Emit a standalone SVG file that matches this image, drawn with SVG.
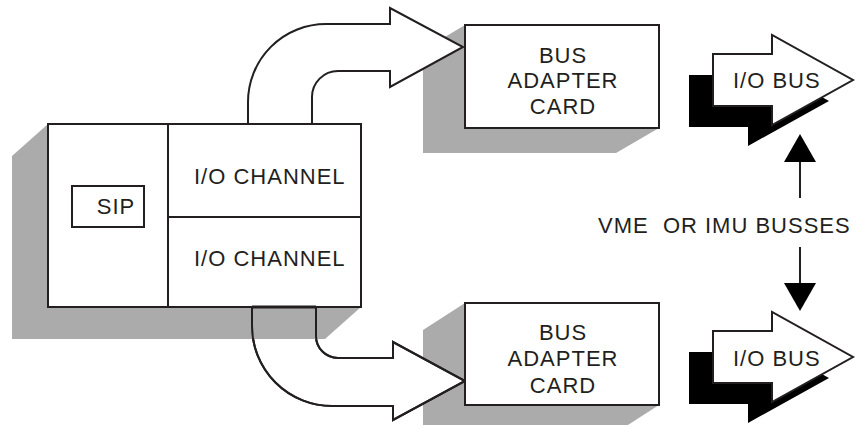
<svg xmlns="http://www.w3.org/2000/svg" width="866" height="425" viewBox="0 0 866 425">
<style>
.t{font-family:"Liberation Sans",Arial,sans-serif;font-size:22px;letter-spacing:1px;fill:#231f20}
.m{text-anchor:middle}
.sh{fill:#ababab}
.bx{fill:#fff;stroke:#231f20;stroke-width:2}
.ln{fill:none;stroke:#231f20;stroke-width:2}
.blk{fill:#000}
</style>
<defs>
<path id="arrTop" d="M248,124 V102 A78,78 0 0 1 326,24 H390 V8 L463,47 L390,87 V71 H338 A26,26 0 0 0 312,97 V124 Z"/>
<path id="arrBot" d="M252,307 V326 A80,80 0 0 0 332,406 H393 V420 L465,381 L393,342 V358 H338 A22,22 0 0 1 316,336 V307 Z"/>
</defs>
<rect width="866" height="425" fill="#fff"/>
<g id="card-shadows">
<polygon class="sh" points="465,25 423,50 423,153 616,153 659,128 659,25"/>
<polygon class="sh" points="465,303 423,330 423,432 617,432 659,405 659,303"/>
</g>
<g id="connectors">
<use href="#arrTop" fill="#fff" stroke="#231f20" stroke-width="2" stroke-linejoin="miter"/>
<use href="#arrBot" fill="#fff" stroke="#231f20" stroke-width="2" stroke-linejoin="miter"/>
</g>
<g id="main-unit">
<polygon class="sh" points="48,124 12,156 12,339 325,339 361,307 361,124"/>
<use href="#arrBot" fill="none" stroke="#231f20" stroke-width="2"/>
<rect class="bx" x="48" y="124" width="313" height="183"/>
<line class="ln" x1="168" y1="124" x2="168" y2="307"/>
<line class="ln" x1="168" y1="217" x2="361" y2="217"/>
<line x1="252" y1="307" x2="316" y2="307" stroke="#231f20" stroke-width="3"/>
<g id="sip">
<rect class="bx" x="72" y="186" width="72" height="41"/>
<text class="t m" x="116" y="214">SIP</text>
</g>
<g id="io-channel-1"><text class="t" x="194" y="184">I/O CHANNEL</text></g>
<g id="io-channel-2"><text class="t" x="194" y="266">I/O CHANNEL</text></g>
</g>
<g id="bus-adapter-card-1">
<rect class="bx" x="465" y="25" width="194" height="103"/>
<text class="t m" x="563" y="63">BUS</text>
<text class="t m" x="563" y="88">ADAPTER</text>
<text class="t m" x="563" y="114">CARD</text>
</g>
<g id="bus-adapter-card-2">
<rect class="bx" x="465" y="303" width="194" height="102"/>
<text class="t m" x="563" y="340">BUS</text>
<text class="t m" x="563" y="366">ADAPTER</text>
<text class="t m" x="563" y="393">CARD</text>
</g>
<g id="io-bus-1">
<polygon class="blk" points="689,75 748,75 748,56 829,101 748,146 748,127 689,127"/>
<polygon class="bx" points="713,54 772,54 772,35 853,80 772,125 772,106 713,106"/>
<text class="t" x="733" y="88">I/O BUS</text>
</g>
<g id="io-bus-2">
<polygon class="blk" points="689,352 748,352 748,333 829,378 748,423 748,404 689,404"/>
<polygon class="bx" points="713,331 772,331 772,312 853,357 772,402 772,383 713,383"/>
<text class="t" x="733" y="366">I/O BUS</text>
</g>
<g id="busses-label">
<text class="t" x="598" y="233" xml:space="preserve">VME  OR IMU BUSSES</text>
</g>
<g id="label-arrows">
<line class="ln" x1="800" y1="160" x2="800" y2="198"/>
<polygon class="blk" points="800,134 816,162 784,162"/>
<line class="ln" x1="800" y1="247" x2="800" y2="285"/>
<polygon class="blk" points="784,283 816,283 800,311"/>
</g>
</svg>
